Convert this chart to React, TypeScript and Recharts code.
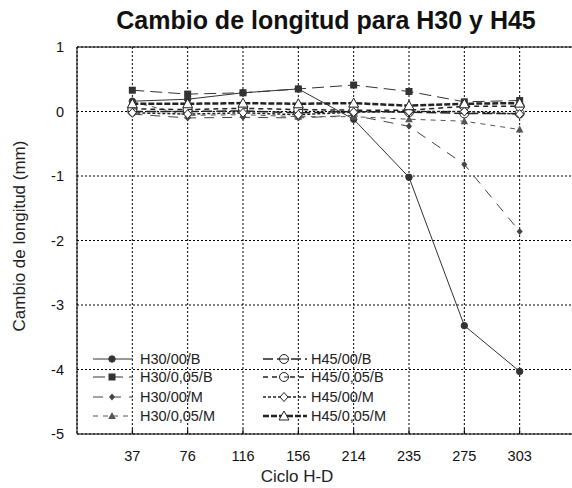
import { LineChart, Line, XAxis, YAxis, CartesianGrid, ReferenceLine, Legend } from 'recharts';

const CYCLES = ['37', '76', '116', '156', '214', '235', '275', '303'];
const Y_TICKS = [1, 0, -1, -2, -3, -4, -5];

const H30_00_B = [0.16, 0.19, 0.29, 0.35, -0.12, -1.02, -3.32, -4.03];
const H30_005_B = [0.33, 0.27, 0.29, 0.35, 0.41, 0.31, 0.15, 0.17];
const H30_00_M = [-0.04, -0.1, -0.09, -0.1, -0.06, -0.23, -0.82, -1.86];
const H30_005_M = [0.15, -0.06, -0.05, -0.08, -0.08, -0.12, -0.15, -0.28];
const H45_00_B = [0.0, 0.0, 0.01, -0.02, 0.0, -0.01, -0.03, -0.03];
const H45_005_B = [0.04, 0.03, 0.05, 0.03, 0.02, 0.02, 0.08, 0.08];
const H45_00_M = [-0.02, -0.04, -0.02, -0.05, -0.01, 0.0, 0.0, -0.04];
const H45_005_M = [0.12, 0.12, 0.13, 0.12, 0.13, 0.09, 0.12, 0.13];

type MarkerKind = 'circle' | 'square' | 'diamond' | 'triangle' | 'ocircle' | 'ocircle2' | 'odiamond' | 'otriangle';

const SERIES: { key: string; name: string; values: number[]; dash?: string; width: number; color: string; marker: MarkerKind }[] = [
  { key: 'a', name: 'H30/00/B', values: H30_00_B, width: 1, color: '#333', marker: 'circle' },
  { key: 'b', name: 'H30/0,05/B', values: H30_005_B, dash: '12 6', width: 1, color: '#333', marker: 'square' },
  { key: 'c', name: 'H30/00/M', values: H30_00_M, dash: '10 8', width: 1, color: '#444', marker: 'diamond' },
  { key: 'd', name: 'H30/0,05/M', values: H30_005_M, dash: '5 5', width: 1, color: '#555', marker: 'triangle' },
  { key: 'e', name: 'H45/00/B', values: H45_00_B, dash: '10 4', width: 1.5, color: '#222', marker: 'ocircle' },
  { key: 'f', name: 'H45/0,05/B', values: H45_005_B, dash: '5 4', width: 1.5, color: '#222', marker: 'ocircle2' },
  { key: 'g', name: 'H45/00/M', values: H45_00_M, dash: '3 2', width: 1.5, color: '#222', marker: 'odiamond' },
  { key: 'h', name: 'H45/0,05/M', values: H45_005_M, dash: '6 2', width: 2.5, color: '#222', marker: 'otriangle' },
];

const data = CYCLES.map((c, i) => {
  const row: Record<string, number | string> = { x: i + 1, cycle: c };
  SERIES.forEach(s => {
    row[s.key] = s.values[i];
  });
  return row;
});

function Marker({ kind, cx, cy, color }: { kind: MarkerKind; cx: number; cy: number; color: string }) {
  switch (kind) {
    case 'circle':
      return <circle cx={cx} cy={cy} r={3.2} fill={color} stroke={color} />;
    case 'square':
      return <rect x={cx - 3.5} y={cy - 3.5} width={7} height={7} fill={color} />;
    case 'diamond':
      return <path d={`M${cx},${cy - 3.5}L${cx + 3},${cy}L${cx},${cy + 3.5}L${cx - 3},${cy}Z`} fill={color} />;
    case 'triangle':
      return <path d={`M${cx},${cy - 4}L${cx + 3.8},${cy + 3}L${cx - 3.8},${cy + 3}Z`} fill={color} />;
    case 'ocircle':
      return (
        <g>
          <circle cx={cx} cy={cy} r={4.5} fill="#fff" stroke={color} strokeWidth={1} />
          <line x1={cx - 4.5} y1={cy} x2={cx + 4.5} y2={cy} stroke={color} strokeWidth={1} />
        </g>
      );
    case 'ocircle2':
      return (
        <g>
          <circle cx={cx} cy={cy} r={4.5} fill="#fff" stroke={color} strokeWidth={1} />
          <line x1={cx} y1={cy} x2={cx + 4.5} y2={cy} stroke={color} strokeWidth={1} />
        </g>
      );
    case 'odiamond':
      return <path d={`M${cx},${cy - 4.5}L${cx + 4},${cy}L${cx},${cy + 4.5}L${cx - 4},${cy}Z`} fill="#fff" stroke={color} strokeWidth={1} />;
    case 'otriangle':
      return <path d={`M${cx},${cy - 5}L${cx + 5},${cy + 4}L${cx - 5},${cy + 4}Z`} fill="#fff" stroke={color} strokeWidth={1} />;
  }
  return null;
}

function ChartLegend() {
  const rowY = [359, 377, 397, 416];
  return (
    <svg width={572} height={488} style={{ position: 'absolute', left: 0, top: 0, pointerEvents: 'none' }}>
      {SERIES.map((s, i) => {
        const col = Math.floor(i / 4);
        const y = rowY[i % 4];
        const x1 = col === 0 ? 93 : 263;
        const x2 = col === 0 ? 133 : 307;
        const mx = col === 0 ? 112 : 284;
        const tx = col === 0 ? 140 : 311;
        return (
          <g key={s.key}>
            <line x1={x1} y1={y} x2={x2} y2={y} stroke={s.color} strokeWidth={s.width} strokeDasharray={s.dash} />
            <Marker kind={s.marker} cx={mx} cy={y} color={s.color} />
            <text x={tx} y={y} dy="0.36em" fontSize={14.5} fill="#222" fontFamily="'Liberation Sans', Arial, sans-serif">
              {s.name}
            </text>
          </g>
        );
      })}
    </svg>
  );
}

export default function App() {
  const font = "'Liberation Sans', Arial, sans-serif";
  return (
    <div style={{ position: 'absolute', left: 0, top: 0, width: 572, height: 488, overflow: 'hidden', background: '#fff', fontFamily: font }}>
      <div style={{ position: 'absolute', left: 0, top: 6, width: 652, textAlign: 'center', fontSize: 25, fontWeight: 'bold', color: '#111', whiteSpace: 'nowrap' }}>
        Cambio de longitud para H30 y H45
      </div>
      <div
        style={{
          position: 'absolute',
          left: 20,
          top: 236,
          transform: 'translate(-50%, -50%) rotate(-90deg)',
          whiteSpace: 'nowrap',
          fontSize: 17,
          color: '#222',
        }}
      >
        Cambio de longitud (mm)
      </div>
      <div style={{ position: 'absolute', left: 0, top: 467, width: 594, textAlign: 'center', fontSize: 17, color: '#222' }}>
        Ciclo H-D
      </div>
      <div style={{ position: 'absolute', left: 0, top: 0 }}>
        <LineChart width={580} height={488} data={data} margin={{ top: 47, right: 5, bottom: 20, left: 0 }}>
          <CartesianGrid stroke="#000" strokeDasharray="2 2" strokeWidth={1} />
          <XAxis
            type="number"
            dataKey="x"
            domain={[0, 9]}
            ticks={[1, 2, 3, 4, 5, 6, 7, 8]}
            tickFormatter={(v: number) => CYCLES[v - 1]}
            height={34}
            tickSize={-5}
            tickMargin={22}
            stroke="#000"
            tick={{ fill: '#111', fontSize: 14.5, fontFamily: font }}
          />
          <YAxis
            type="number"
            domain={[-5, 1]}
            ticks={Y_TICKS}
            width={77}
            tickLine={false}
            tickMargin={7}
            stroke="#000"
            tick={{ fill: '#111', fontSize: 14.5, fontFamily: font }}
          />
          <ReferenceLine y={1} stroke="#000" strokeWidth={1} />
          {SERIES.map(s => (
            <Line
              key={s.key}
              type="linear"
              dataKey={s.key}
              name={s.name}
              stroke={s.color}
              strokeWidth={s.width}
              strokeDasharray={s.dash}
              isAnimationActive={false}
              dot={(p: any) => <Marker key={`${s.key}-${p.index}`} kind={s.marker} cx={p.cx} cy={p.cy} color={s.color} />}
              activeDot={false}
            />
          ))}
          <Legend content={() => null} />
        </LineChart>
      </div>
      <ChartLegend />
    </div>
  );
}
